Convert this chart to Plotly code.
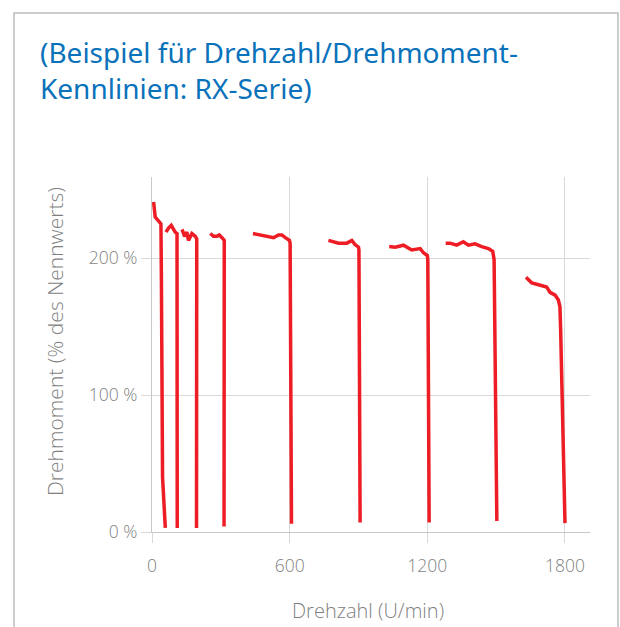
import plotly.graph_objects as go

# ---- data ----
c1_rpm = [7, 14, 29, 36, 39, 41, 46, 58]
c1_torque = [241, 230, 227, 226, 225, 184, 40, 3]
c2_rpm = [61, 72, 84, 94, 101, 109, 110]
c2_torque = [219, 222, 224, 221, 219, 218, 3]
c3_rpm = [131, 142, 152, 159, 174, 189, 195, 194]
c3_torque = [221, 216, 219, 213, 218, 216, 214, 3]
c4_rpm = [254, 268, 283, 293, 305, 315, 314]
c4_torque = [218, 216, 216, 217, 215, 213, 4]
c5_rpm = [440, 471, 501, 530, 551, 566, 581, 599, 602, 608]
c5_torque = [218, 217, 216, 215, 217, 217, 215, 213, 211, 6]
c6_rpm = [769, 791, 813, 834, 849, 871, 885, 900, 902, 907]
c6_torque = [213, 212, 211, 211, 211, 213, 210, 208, 206, 7]
c7_rpm = [1034, 1060, 1096, 1118, 1132, 1169, 1183, 1200, 1202, 1208]
c7_torque = [208.5, 208, 209.5, 207, 206, 207, 204, 202, 199, 7]
c8_rpm = [1280, 1299, 1328, 1357, 1379, 1408, 1437, 1466, 1485, 1491, 1492, 1503]
c8_torque = [211, 211, 209.5, 212, 209.5, 210.5, 208.5, 207, 205, 199, 184, 8]
c9_rpm = [1630, 1655, 1677, 1699, 1720, 1735, 1757, 1771, 1778, 1781, 1800]
c9_torque = [186, 182, 181, 180, 179, 175, 173, 169.5, 164.5, 148, 6.5]

x_ticks = [0, 600, 1200, 1800]
x_tick_labels = ["0", "600", "1200", "1800"]
y_ticks = [0, 100, 200]
y_tick_labels = ["0 %", "100 %", "200 %"]

title_text = "(Beispiel für Drehzahl/Drehmoment-<br>Kennlinien: RX-Serie)"
x_title = "Drehzahl (U/min)"
y_title = "Drehmoment (% des Nennwerts)"

curves = [
    (c1_rpm, c1_torque), (c2_rpm, c2_torque), (c3_rpm, c3_torque),
    (c4_rpm, c4_torque), (c5_rpm, c5_torque), (c6_rpm, c6_torque),
    (c7_rpm, c7_torque), (c8_rpm, c8_torque), (c9_rpm, c9_torque),
]

W, H = 620, 627
ML, MR, MT, MB = 152, 30, 177, 95
PW, PH = W - ML - MR, H - MT - MB

def px_to_paper_x(px):
    return (px - ML) / PW

def px_to_paper_y(py):
    return (H - MB - py) / PH

RED = "#EE1D25"
GRAY_TXT = "#7F7F7F"
GRID = "#D9D9D9"
AXIS = "#C8C8C8"
FONT = "Open Sans"

fig = go.Figure()
for xs, ys in curves:
    fig.add_trace(go.Scatter(x=xs, y=ys, mode="lines",
                             line=dict(color=RED, width=3.5),
                             showlegend=False, hoverinfo="skip"))

fig.update_layout(
    width=W, height=H,
    margin=dict(l=ML, r=MR, t=MT, b=MB),
    paper_bgcolor="white", plot_bgcolor="white",
    title=dict(text=title_text, xref="container", yref="container",
               x=40 / W, xanchor="left", y=1 - 63 / H, yanchor="top",
               font=dict(family="Noto Sans", size=28, color="#0A72BA")),
    xaxis=dict(range=[0, 1909], tickvals=x_ticks, ticktext=x_tick_labels,
               showgrid=True, gridcolor=GRID, gridwidth=1, showline=True,
               linecolor=AXIS, linewidth=1, ticks="outside", ticklen=10,
               tickcolor=GRID, ticklabelstandoff=8,
               tickfont=dict(family=FONT, size=17.5, color=GRAY_TXT, weight=300),
               zeroline=False, fixedrange=True),
    yaxis=dict(range=[0, 259.3], tickvals=y_ticks, ticktext=y_tick_labels,
               showgrid=True, gridcolor=GRID, gridwidth=1, showline=True,
               linecolor=AXIS, linewidth=1, ticks="outside", ticklen=10,
               tickcolor=GRID,
               tickfont=dict(family=FONT, size=17.5, color=GRAY_TXT, weight=300),
               zeroline=False, fixedrange=True),
    annotations=[
        dict(text=x_title, xref="paper", yref="paper",
             x=px_to_paper_x(367.5), y=px_to_paper_y(610),
             xanchor="center", yanchor="middle", showarrow=False,
             font=dict(family=FONT, size=20, color=GRAY_TXT, weight=300)),
        dict(text=y_title, xref="paper", yref="paper",
             x=px_to_paper_x(55), y=px_to_paper_y(342), textangle=-90,
             xanchor="center", yanchor="middle", showarrow=False,
             font=dict(family=FONT, size=21, color=GRAY_TXT, weight=300)),
    ],
    shapes=[
        dict(type="rect", xref="paper", yref="paper",
             x0=px_to_paper_x(14), x1=px_to_paper_x(618),
             y0=px_to_paper_y(660), y1=px_to_paper_y(13),
             line=dict(color="#BDBDBD", width=1.5), fillcolor="rgba(0,0,0,0)",
             layer="below"),
    ],
)

fig.write_html("out.html",
               config={"displayModeBar": False},
               post_script="document.body.style.margin='0';"
                           "document.body.style.overflow='hidden';")
